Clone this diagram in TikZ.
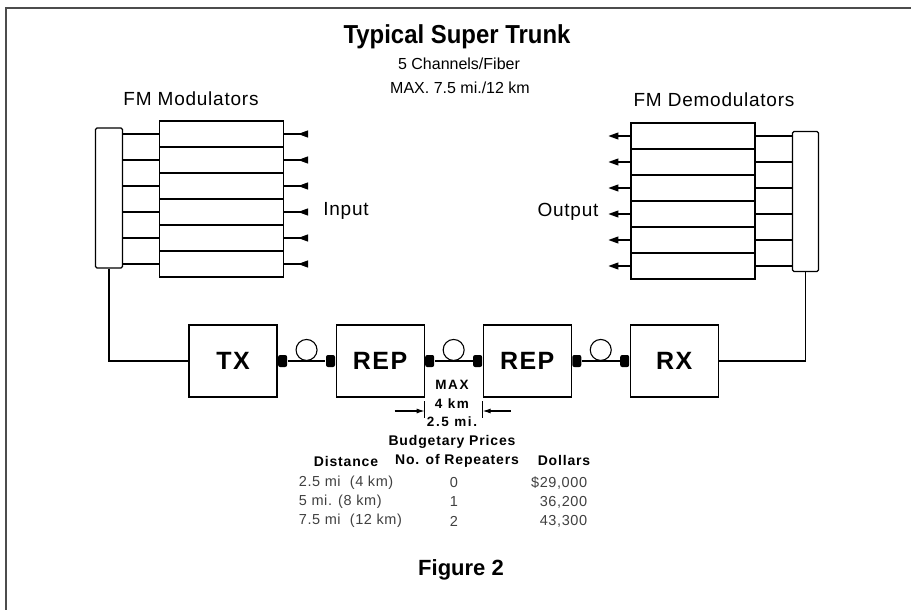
\documentclass[tikz,border=0pt]{standalone}
\usepackage{fontspec}
\setmainfont{Liberation Sans}
\newfontfamily\spacedfont[LetterSpace=6]{Liberation Sans}
\newfontfamily\looseFont[LetterSpace=4]{Liberation Sans}
\newfontfamily\widefont[LetterSpace=12]{Liberation Sans}
\usepackage{tikz}
\usetikzlibrary{arrows.meta}
\usetikzlibrary{positioning}
\usetikzlibrary{calc}
\newcommand{\trunktitle}{\bfseries\fontsize{26}{28}\selectfont}
\newcommand{\trunksub}{\fontsize{16}{18}\selectfont}
\newcommand{\fmlabel}{\looseFont\fontsize{19}{21}\selectfont}
\newcommand{\boxlabel}{\spacedfont\bfseries\fontsize{25}{27}\selectfont}
\newcommand{\dimlabel}{\widefont\bfseries\fontsize{13.5}{15}\selectfont}
\newcommand{\tabhead}{\spacedfont\bfseries\fontsize{14}{16}\selectfont}
\newcommand{\tabrow}{\looseFont\fontsize{14.5}{16}\selectfont}
\newcommand{\figlabel}{\bfseries\fontsize{22}{24}\selectfont}
\tikzstyle{block} = [draw, rectangle, minimum width = 88pt, minimum height = 72pt, inner sep = 0pt, font = \boxlabel]
\tikzstyle{chan} = [draw, rectangle, minimum width = 124pt, minimum height = 26pt, inner sep = 0pt]
\tikzstyle{combiner} = [draw, rectangle, rounded corners = 1.5pt, minimum width = 27pt, minimum height = 140pt, inner sep = 0pt]
\tikzstyle{plug} = [fill, rectangle, rounded corners = 2pt, minimum width = 9pt, minimum height = 12pt, inner sep = 0pt]
\tikzstyle{fiberloop} = [draw, circle, minimum size = 21pt, inner sep = 0pt]
\tikzstyle{sig} = [-{Triangle[reversed, length = 10pt, width = 7pt]}]
\tikzstyle{sigout} = [-{Triangle[length = 10pt, width = 7pt]}]
\tikzstyle{dimarrow} = [-{Latex[length = 8pt, width = 5pt]}]
\tikzstyle{row} = [font = \tabrow, text = black!75]

\begin{document}
\begin{tikzpicture}[x = 1pt, y = -1pt, line width = 1.1pt]

	\useasboundingbox (0,0) rectangle (911,610);

	% Frame
	\draw[black!70] (6,610) -- (6,8) -- (911,8);

	% Title
	\node[font = \trunktitle] (title) at (457,37) {\scalebox{0.92}[1]{Typical Super Trunk}};
	\node[font = \trunksub] (chan) at (459,64) {5 Channels/Fiber};
	\node[font = \trunksub] (maxlen) at (460,88) {MAX. 7.5 mi./12 km};

	% FM modulators
	\node[font = \fmlabel] (modlabel) at (191,99) {FM Modulators};
	\node[combiner] (comb) at (109,198) {};
	\foreach \i in {1,...,6} {
		\node[chan] (mod\i) at (221.5,{108 + 26*\i}) {};
		\coordinate (in\i) at ($(mod\i.east) + (24,0)$);
		\draw (comb.east |- mod\i) -- (mod\i.west);
		\draw[sig] (mod\i.east) -- (in\i);
	}
	\node[font = \fmlabel] (inlabel) at (346,211) {Input};

	% FM demodulators
	\node[font = \fmlabel] (demodlabel) at (714,100) {FM Demodulators};
	\node[combiner, minimum width = 26pt] (dcomb) at (805.5,201.5) {};
	\foreach \i in {1,...,6} {
		\node[chan] (demod\i) at (693,{110 + 26*\i}) {};
		\coordinate (out\i) at ($(demod\i.west) + (-22,0)$);
		\draw (demod\i.east) -- (dcomb.west |- demod\i);
		\draw[sigout] (demod\i.west) -- (out\i);
	}
	\node[font = \fmlabel] (outlabel) at (568,212) {Output};

	% Trunk
	\node[block] (TX) at (233,361) {TX};
	\node[block, right = 58pt of TX] (REP1) {REP};
	\node[block, right = 58pt of REP1] (REP2) {REP};
	\node[block, right = 58pt of REP2] (RX) {RX};

	% Fiber connectors
	\node[plug, anchor = west] (txo) at (TX.east) {};
	\node[plug, anchor = east] (rep1i) at (REP1.west) {};
	\node[plug, anchor = west] (rep1o) at (REP1.east) {};
	\node[plug, anchor = east] (rep2i) at (REP2.west) {};
	\node[plug, anchor = west] (rep2o) at (REP2.east) {};
	\node[plug, anchor = east] (rxi) at (RX.west) {};

	% Fiber runs
	\draw (txo) -- (rep1i) node[fiberloop, midway, anchor = south] (loop1) {};
	\draw (rep1o) -- (rep2i) node[fiberloop, midway, anchor = south] (loop2) {};
	\draw (rep2o) -- (rxi) node[fiberloop, midway, anchor = south] (loop3) {};
	\draw (comb.south) |- (TX.west);
	\draw (RX.east) -| (dcomb.south);

	% Repeater spacing
	\coordinate (dimrow) at (451,411);
	\coordinate (dimL) at (REP1.east |- dimrow);
	\coordinate (dimR) at (REP2.west |- dimrow);
	\coordinate[left = 30pt of dimL] (dimLa);
	\coordinate[right = 28pt of dimR] (dimRa);
	\draw ($(dimL) + (0,-10)$) -- ($(dimL) + (0,7)$);
	\draw ($(dimR) + (0,-10)$) -- ($(dimR) + (0,7)$);
	\draw[dimarrow] (dimLa) -- (dimL);
	\draw[dimarrow] (dimRa) -- (dimR);
	\node[font = \dimlabel] (max) at (452,385) {MAX};
	\node[font = \dimlabel] (km) at (452,404) {4 km};
	\node[font = \dimlabel] (mi) at (452,422) {2.5 mi.};

	% Prices
	\node[font = \tabhead] (budget) at (452,442) {Budgetary Prices};
	\node[font = \tabhead] (disthead) at (346,461) {Distance};
	\node[font = \tabhead] (numhead) at (457,461) {No. of Repeaters};
	\node[font = \tabhead] (dollarhead) at (564,460) {Dollars};
	\node[row, anchor = west] (dist1) at (295,483) {2.5 mi\ \ (4 km)};
	\node[row] (num1) at (454,483) {0};
	\node[row, anchor = east] (price1) at (591,483) {\$29,000};
	\node[row, anchor = west] (dist2) at (295,502) {5 mi. (8 km)};
	\node[row] (num2) at (454,502) {1};
	\node[row, anchor = east] (price2) at (591,502) {36,200};
	\node[row, anchor = west] (dist3) at (295,521) {7.5 mi\ \ (12 km)};
	\node[row] (num3) at (454,521) {2};
	\node[row, anchor = east] (price3) at (591,521) {43,300};

	\node[font = \figlabel] (fig) at (461,570) {Figure 2};

\end{tikzpicture}
\end{document}
